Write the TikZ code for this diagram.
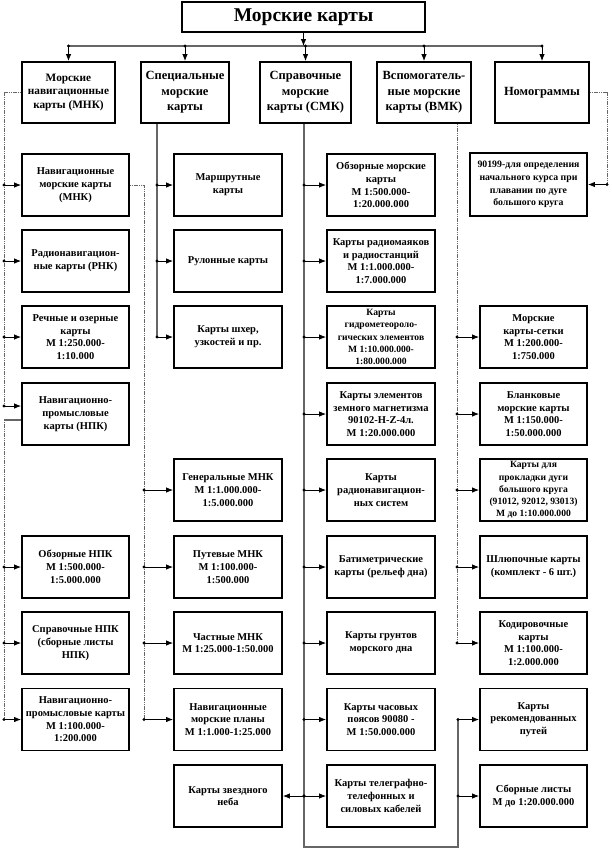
\documentclass[tikz,border=0pt]{standalone}
\usepackage{fontspec}
\setmainfont{Liberation Serif}
\usetikzlibrary{arrows.meta}
\tikzset{
  bx/.style={draw, line width=1.9pt, fill=white, align=center, inner sep=1pt,
    font=\bfseries\fontsize{10.5}{12.7}\selectfont},
  topbx/.style={bx, minimum height=61pt, font=\bfseries\fontsize{12.5}{15.5}\selectfont},
  c1/.style={bx, minimum width=107pt, minimum height=62pt},
  c2/.style={bx, minimum width=108pt, minimum height=62pt},
  c3/.style={bx, minimum width=108pt, minimum height=62pt},
  c4/.style={bx, minimum width=107pt, minimum height=62pt},
  small/.style={font=\bfseries\fontsize{9.6}{12.2}\selectfont},
  arr/.style={-{Latex[length=7pt,width=5.5pt]}, line width=0.8pt, black},
  gline/.style={draw=black!60, line width=1.3pt},
  dline/.style={draw=black!60, line width=1pt, dash pattern=on 1.2pt off 0.6pt},
}
\newcommand\arrR[2]{\fill (#2.west -| #1) circle (1.7pt); \draw[arr] (#2.west -| #1) -- (#2.west);}
\newcommand\arrL[2]{\fill (#2.east -| #1) circle (1.7pt); \draw[arr] (#2.east -| #1) -- (#2.east);}
\begin{document}
\begin{tikzpicture}[x=1pt,y=-1pt]
\useasboundingbox (0,0) rectangle (612,849);

% title and top level
\node[bx, minimum width=243pt, minimum height=30pt, font=\bfseries\fontsize{19.5}{22}\selectfont] (title) at (303.5,17) {Морские карты};
\node[topbx, minimum width=93pt, font=\bfseries\fontsize{11.3}{14}\selectfont] (mnk) at (68.5,92.5) {Морские\\навигационные\\карты (МНК)};
\node[topbx, minimum width=88pt] (spec) at (185,92.5) {Специальные\\морские\\карты};
\node[topbx, minimum width=91pt] (smk) at (305.5,92.5) {Справочные\\морские\\карты (СМК)};
\node[topbx, minimum width=94pt] (vmk) at (424,92.5) {Вспомогатель-\\ные морские\\карты (ВМК)};
\node[topbx, minimum width=94pt] (nomo) at (542,92.5) {Номограммы};

% column 1
\node[c1] (a1) at (75.5,185) {Навигационные\\морские карты\\(МНК)};
\node[c1] (a2) at (75.5,261) {Радионавигацион-\\ные карты (РНК)};
\node[c1] (a3) at (75.5,337) {Речные и озерные\\карты\\М 1:250.000-\\1:10.000};
\node[c1] (a4) at (75.5,414) {Навигационно-\\промысловые\\карты (НПК)};
\node[c1] (a6) at (75.5,567) {Обзорные НПК\\М 1:500.000-\\1:5.000.000};
\node[c1] (a7) at (75.5,643) {Справочные НПК\\(сборные листы\\НПК)};
\node[c1] (a8) at (75.5,719.5) {Навигационно-\\промысловые карты\\М 1:100.000-\\1:200.000};

% column 2
\node[c2] (b1) at (228,185) {Маршрутные\\карты};
\node[c2] (b2) at (228,261) {Рулонные карты};
\node[c2] (b3) at (228,337) {Карты шхер,\\узкостей и пр.};
\node[c2] (b5) at (228,490) {Генеральные МНК\\М 1:1.000.000-\\1:5.000.000};
\node[c2] (b6) at (228,567) {Путевые МНК\\М 1:100.000-\\1:500.000};
\node[c2] (b7) at (228,643) {Частные МНК\\М 1:25.000-1:50.000};
\node[c2] (b8) at (228,719.5) {Навигационные\\морские планы\\М 1:1.000-1:25.000};
\node[c2] (b9) at (228,796) {Карты звездного\\неба};

% column 3
\node[c3] (s1) at (381,185) {Обзорные морские\\карты\\М 1:500.000-\\1:20.000.000};
\node[c3] (s2) at (381,261) {Карты радиомаяков\\и радиостанций\\М 1:1.000.000-\\1:7.000.000};
\node[c3, small] (s3) at (381,337) {Карты\\гидрометеороло-\\гических элементов\\М 1:10.000.000-\\1:80.000.000};
\node[c3] (s4) at (381,414) {Карты элементов\\земного магнетизма\\90102-H-Z-4л.\\М 1:20.000.000};
\node[c3] (s5) at (381,490) {Карты\\радионавигацион-\\ных систем};
\node[c3] (s6) at (381,567) {Батиметрические\\карты (рельеф дна)};
\node[c3] (s7) at (381,643) {Карты грунтов\\морского дна};
\node[c3] (s8) at (381,719.5) {Карты часовых\\поясов 90080 -\\М 1:50.000.000};
\node[c3] (s9) at (381,796) {Карты телеграфно-\\телефонных и\\силовых кабелей};

% column 4
\node[bx, minimum width=117pt, minimum height=63pt, font=\bfseries\fontsize{9.8}{12.7}\selectfont] (n1) at (528.5,184.5) {90199-для определения\\начального курса при\\плавании по дуге\\большого круга};
\node[c4] (v3) at (533.5,337) {Морские\\карты-сетки\\М 1:200.000-\\1:750.000};
\node[c4] (v4) at (533.5,414) {Бланковые\\морские карты\\М 1:150.000-\\1:50.000.000};
\node[c4, small] (v5) at (533.5,490) {Карты для\\прокладки дуги\\большого круга\\(91012, 92012, 93013)\\М до 1:10.000.000};
\node[c4] (v6) at (533.5,567) {Шлюпочные карты\\(комплект - 6 шт.)};
\node[c4] (v7) at (533.5,643) {Кодировочные\\карты\\М 1:100.000-\\1:2.000.000};
\node[c4] (v8) at (533.5,719.5) {Карты\\рекомендованных\\путей};
\node[c4] (v9) at (533.5,796) {Сборные листы\\М до 1:20.000.000};

% vertical line coordinates
\coordinate (bus) at (0,46);
\coordinate (VL1) at (4,0);
\coordinate (VL2) at (144,0);
\coordinate (VL3) at (157,0);
\coordinate (VL4) at (304,0);
\coordinate (VL5) at (457,0);
\coordinate (VL6) at (458,0);
\coordinate (VL7) at (607,0);
\coordinate (bot) at (0,847);

% top bus
\draw[gline] (mnk.north |- bus) -- (nomo.north |- bus);
\draw[arr] (title.south) -- (title.south |- bus);
\foreach \n in {mnk,spec,smk,vmk,nomo}{
  \fill (\n.north |- bus) circle (1.7pt);
  \draw[arr] (\n.north |- bus) -- (\n.north);
}

% MNK left line
\coordinate (npkin) at ([yshift=8pt]a4.west);
\coordinate (npkout) at ([yshift=-6pt]a4.west);
\draw[dline] (mnk.west) -- (mnk.west -| VL1) -- (npkin -| VL1);
\foreach \n in {a1,a2,a3}{\arrR{VL1}{\n}}
\fill (npkin -| VL1) circle (1.7pt);
\draw[arr] (npkin -| VL1) -- (npkin);
\draw[gline] (npkout) -- (npkout -| VL1);
\draw[dline] (npkout -| VL1) -- (a8.west -| VL1);
\foreach \n in {a6,a7,a8}{\arrR{VL1}{\n}}

% Nav MNK right line
\draw[dline] (a1.east) -- (a1.east -| VL2) -- (b8.west -| VL2);
\foreach \n in {b5,b6,b7,b8}{\arrR{VL2}{\n}}

% Special line
\draw[gline] (spec.south -| VL3) -- (b3.west -| VL3);
\foreach \n in {b1,b2,b3}{\arrR{VL3}{\n}}

% SMK line
\draw[gline] (smk.south -| VL4) -- (bot -| VL4) -- (bot -| VL6) -- (v8.west -| VL6);
\foreach \n in {s1,s2,s3,s4,s5,s6,s7,s8,s9}{\arrR{VL4}{\n}}
\arrL{VL4}{b9}
\foreach \n in {v8,v9}{\arrR{VL6}{\n}}

% VMK line
\draw[dline] (vmk.south -| VL5) -- (v7.west -| VL5);
\foreach \n in {v3,v4,v5,v6,v7}{\arrR{VL5}{\n}}

% Nomogram line
\draw[dline] (nomo.east) -- (nomo.east -| VL7) -- (n1.east -| VL7);
\arrL{VL7}{n1}
\end{tikzpicture}
\end{document}
